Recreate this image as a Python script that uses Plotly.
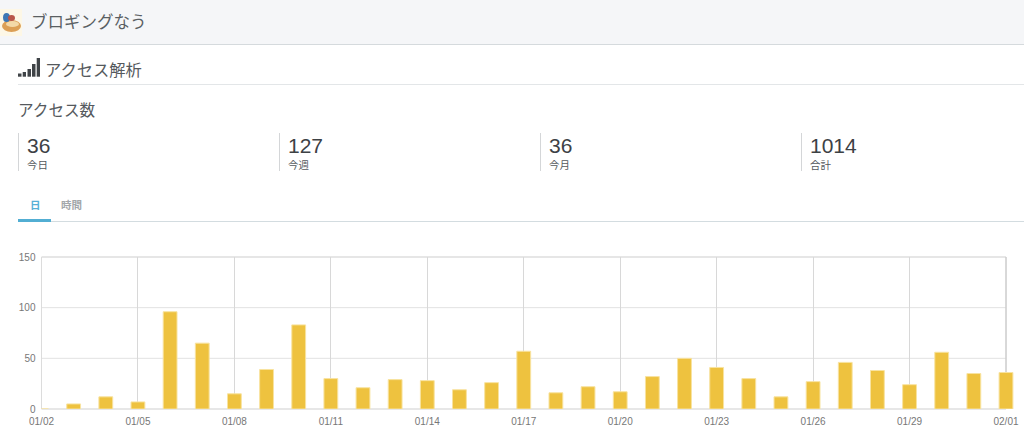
import plotly.graph_objects as go

W, H = 1024, 438
days = ["01/02","01/03","01/04","01/05","01/06","01/07","01/08","01/09","01/10","01/11","01/12","01/13","01/14","01/15","01/16","01/17","01/18","01/19","01/20","01/21","01/22","01/23","01/24","01/25","01/26","01/27","01/28","01/29","01/30","01/31","02/01"]
values = [0,5,12,7,96,65,15,39,83,30,21,29,28,19,26,57,16,22,17,32,50,41,30,12,27,46,38,24,56,35,36]
tick_labels = ["01/02","01/05","01/08","01/11","01/14","01/17","01/20","01/23","01/26","01/29","02/01"]
y_ticks = [0, 50, 100, 150]
stat_values = ["36","127","36","1014"]
stat_labels = ["今日","今週","今月","合計"]
stat_x = [19, 280, 541, 802]

JP = "Noto Sans CJK JP, Liberation Sans, sans-serif"
NUM = "Liberation Sans, Arial, sans-serif"
PLOT_L, PLOT_R, PLOT_T, PLOT_B = 41.5, 1006, 257, 409
DAY_PX = (PLOT_R - PLOT_L) / 30
EXTRA_DAYS = 0.5  # room past 02/01 so the last bar is not cut at the frame

def px(x): return x / W
def py(y): return 1 - y / H

shapes, ann = [], []
def rect(x0, y0, x1, y1, color, layer="below"):
    shapes.append(dict(type="rect", xref="paper", yref="paper", x0=px(x0), x1=px(x1), y0=py(y0), y1=py(y1),
                       fillcolor=color, line_width=0, layer=layer))
def blob(x0, y0, x1, y1, color):
    shapes.append(dict(type="circle", xref="paper", yref="paper", x0=px(x0), x1=px(x1), y0=py(y0), y1=py(y1),
                       fillcolor=color, line_width=0, layer="below"))
def text(x, y, s, size, color, font=JP, anchor="left"):
    ann.append(dict(xref="paper", yref="paper", x=px(x), y=py(y), text=s, showarrow=False, xanchor=anchor,
                    yanchor="middle", xshift=-2, font=dict(family=font, size=size, color=color)))

rect(0, 0, W, 44, "#f5f6f8")
rect(0, 44, W, 45, "#d5dadd")
rect(0, 9, 22, 36, "#fdf7e6")
blob(2, 20, 21, 32, "#dc9f55")
blob(6, 21, 19, 27, "#f3d9a8")
blob(3, 13, 10, 22, "#3f78b5")
blob(8, 15, 15, 21, "#b9564a")
text(31, 21, "ブロギングなう", 16.5, "#5a5f63")

for x0, x1, top in [(18, 21.5, 73.5), (22.7, 26, 72), (27.5, 31, 69), (32, 35.5, 64), (36.7, 40, 58)]:
    rect(x0, top, x1, 76.7, "#3f4347")
text(45, 69, "アクセス解析", 16.3, "#55595d")
rect(18, 84, W, 85, "#e3e6e8")
text(18, 109, "アクセス数", 15.6, "#55595d")

for x, v, l in zip(stat_x, stat_values, stat_labels):
    rect(x - 1, 133, x, 171, "#d4d6d8")
    text(x + 8, 146, v, 21, "#3d4145", NUM)
    text(x + 7.5, 165, l, 10.5, "#55595d")

text(30, 204, "<b>日</b>", 10.5, "#57b0d6")
text(61, 204, "<b>時間</b>", 10.5, "#a3a7aa")
rect(18, 221, W, 222, "#d3dce0")
rect(18, 219, 51, 222, "#52aed3")

fig = go.Figure(go.Bar(x=days, y=values, width=0.43, marker=dict(color="#eec23f", line=dict(color="#f8e3a0", width=1))))
fig.update_layout(
    width=W, height=H, margin=dict(l=0, r=0, t=0, b=0), paper_bgcolor="white", plot_bgcolor="white",
    showlegend=False, shapes=shapes, annotations=ann,
    font=dict(family=NUM, size=10, color="#777777"),
    xaxis=dict(domain=[px(PLOT_L), px(PLOT_R + EXTRA_DAYS * DAY_PX)], type="category", range=[0, 30 + EXTRA_DAYS],
               tickmode="array", automargin=False, tickvals=tick_labels, ticktext=tick_labels, showgrid=True,
               gridcolor="#d8d8d8", gridwidth=1, showline=False, ticks="outside", ticklen=3,
               tickcolor="rgba(0,0,0,0)", zeroline=False, tickfont=dict(size=10, color="#777777")),
    yaxis=dict(domain=[py(PLOT_B), py(PLOT_T)], range=[0, 150], tickvals=y_ticks, showgrid=False, automargin=False,
               zeroline=False, ticks="outside", ticklen=3, tickcolor="rgba(0,0,0,0)", showline=False,
               tickfont=dict(size=10, color="#777777")),
)
for v in y_ticks[1:3]:
    fig.add_shape(type="line", xref="paper", yref="y", x0=px(PLOT_L), x1=px(PLOT_R), y0=v, y1=v,
                  line=dict(color="#e2e2e2", width=1), layer="below")
for x0, x1, y0, y1, c, w in [(PLOT_L, PLOT_R, PLOT_B, PLOT_B, "#cfcfcf", 1), (PLOT_L, PLOT_R, PLOT_T, PLOT_T, "#dedede", 1.5),
                             (PLOT_L, PLOT_L, PLOT_B, PLOT_T, "#dcdcdc", 1), (PLOT_R, PLOT_R, PLOT_B, PLOT_T, "#cccccc", 1.5)]:
    fig.add_shape(type="line", xref="paper", yref="paper", x0=px(x0), x1=px(x1), y0=py(y0), y1=py(y1),
                  line=dict(color=c, width=w), layer="below")

fig.write_html("out.html", config=dict(displayModeBar=False),
               post_script="document.body.style.margin='0';document.documentElement.style.overflow='hidden';")
